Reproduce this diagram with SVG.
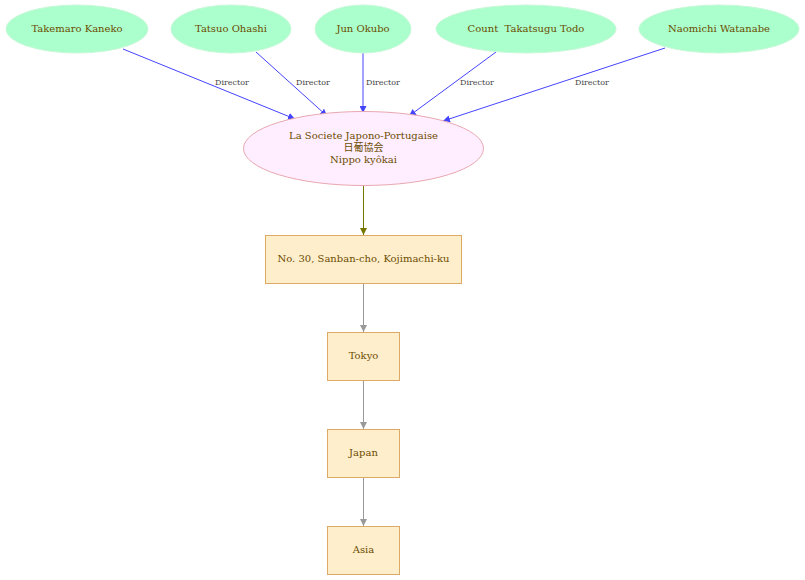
<svg xmlns="http://www.w3.org/2000/svg" width="805" height="580" viewBox="0 0 805 580">
<style>
.person ellipse{fill:#aaffcc;stroke:#c8f8d8;stroke-width:1}
.org ellipse{fill:#ffeeff;stroke:#e8a8b0;stroke-width:1}
.place rect{fill:#ffeecc;stroke:#ddaa66;stroke-width:1}
text{font-family:"DejaVu Serif","Liberation Serif","Noto Sans CJK JP",serif;font-size:10px;fill:#6b4c00;text-anchor:middle}
.lbl{font-size:8px;fill:#444}
.e{fill:none;stroke-width:1}
.blue{stroke:#4444ff}
.olive{stroke:#777700}
.gray{stroke:#999999}
</style>
<defs>
<marker id="ab" viewBox="0 0 10 10" refX="10" refY="5" markerWidth="7" markerHeight="7" markerUnits="userSpaceOnUse" orient="auto"><path d="M0,0L10,5L0,10z" fill="#4444ff"/></marker>
<marker id="ao" viewBox="0 0 10 10" refX="10" refY="5" markerWidth="7" markerHeight="7" markerUnits="userSpaceOnUse" orient="auto"><path d="M0,0L10,5L0,10z" fill="#777700"/></marker>
<marker id="ag" viewBox="0 0 10 10" refX="10" refY="5" markerWidth="7" markerHeight="7" markerUnits="userSpaceOnUse" orient="auto"><path d="M0,0L10,5L0,10z" fill="#999999"/></marker>
</defs>
<rect width="805" height="580" fill="#ffffff"/>
<g id="connectors">
<line class="e blue" x1="123" y1="49" x2="295" y2="119" marker-end="url(#ab)"/>
<line class="e blue" x1="256" y1="52" x2="327" y2="116" marker-end="url(#ab)"/>
<line class="e blue" x1="363" y1="53" x2="363" y2="113" marker-end="url(#ab)"/>
<line class="e blue" x1="496" y1="52" x2="409" y2="116" marker-end="url(#ab)"/>
<line class="e blue" x1="665" y1="48" x2="443" y2="121" marker-end="url(#ab)"/>
<text class="lbl" x="232" y="85">Director</text>
<text class="lbl" x="313" y="85">Director</text>
<text class="lbl" x="383" y="85">Director</text>
<text class="lbl" x="477" y="85">Director</text>
<text class="lbl" x="592" y="85">Director</text>
<line class="e olive" x1="363.5" y1="185" x2="363.5" y2="235" marker-end="url(#ao)"/>
<line class="e gray" x1="363.5" y1="283" x2="363.5" y2="332" marker-end="url(#ag)"/>
<line class="e gray" x1="363.5" y1="380" x2="363.5" y2="429" marker-end="url(#ag)"/>
<line class="e gray" x1="363.5" y1="477" x2="363.5" y2="526" marker-end="url(#ag)"/>
</g>
<g id="n1" class="person"><ellipse cx="77" cy="29" rx="71" ry="24"/><text x="77" y="32">Takemaro Kaneko</text></g>
<g id="n2" class="person"><ellipse cx="231" cy="29" rx="60" ry="24"/><text x="231" y="32">Tatsuo Ohashi</text></g>
<g id="n3" class="person"><ellipse cx="363" cy="29" rx="48" ry="24"/><text x="363" y="32">Jun Okubo</text></g>
<g id="n4" class="person"><ellipse cx="526" cy="29" rx="90" ry="24"/><text x="526" y="32" xml:space="preserve">Count  Takatsugu Todo</text></g>
<g id="n5" class="person"><ellipse cx="719" cy="29" rx="80" ry="24"/><text x="719" y="32">Naomichi Watanabe</text></g>
<g id="org" class="org"><ellipse cx="363.5" cy="148.5" rx="120" ry="37"/>
<text x="363.5" y="139">La Societe Japono-Portugaise</text>
<text x="363.5" y="151">日葡協会</text>
<text x="363.5" y="163">Nippo kyôkai</text></g>
<g id="addr" class="place"><rect x="265.5" y="235.5" width="196" height="48"/><text x="363.5" y="262">No. 30, Sanban-cho, Kojimachi-ku</text></g>
<g id="tokyo" class="place"><rect x="327.5" y="332.5" width="72" height="48"/><text x="363.5" y="359">Tokyo</text></g>
<g id="japan" class="place"><rect x="327.5" y="429.5" width="72" height="48"/><text x="363.5" y="456">Japan</text></g>
<g id="asia" class="place"><rect x="327.5" y="526.5" width="72" height="48"/><text x="363.5" y="553">Asia</text></g>
</svg>
